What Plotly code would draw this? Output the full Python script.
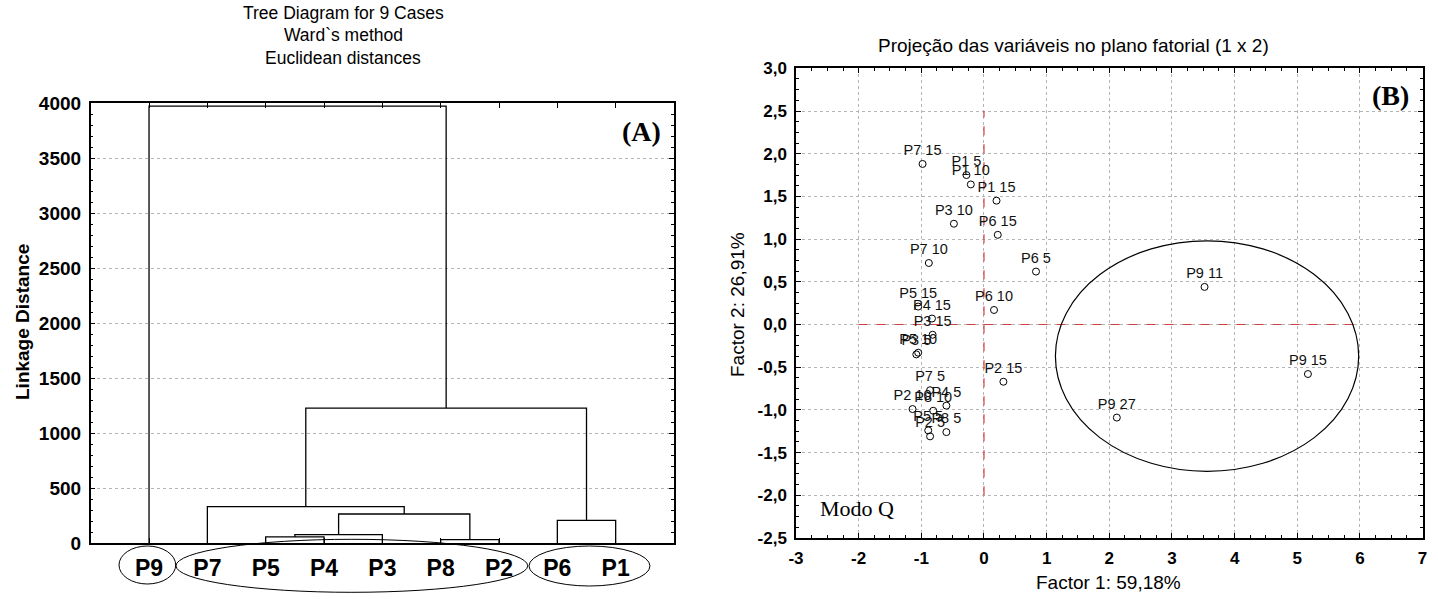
import plotly.graph_objects as go

# ---------------- data ----------------
# Dendrogram (A)
leaves = ["P9", "P7", "P5", "P4", "P3", "P8", "P2", "P6", "P1"]
merge_a = ["P5", "C1", "P8", "C2", "P7", "P6", "C5", "P9"]
merge_b = ["P4", "P3", "P2", "C3", "C4", "P1", "C6", "C7"]
merge_h = [55, 76, 30, 264, 330, 206, 1227, 3975]
y_ticks_a = [0, 500, 1000, 1500, 2000, 2500, 3000, 3500, 4000]

# Factor plane (B)
pt_names = ["P7 15", "P1 5", "P1 10", "P1 15", "P3 10", "P6 15", "P7 10", "P6 5",
            "P5 15", "P4 15", "P3 15", "P6 10", "P5 10", "P3 5", "P2 15", "P7 5",
            "P2 10", "P8 10", "P4 5", "P5 5", "P2 5", "P8 5",
            "P9 11", "P9 15", "P9 27"]
pt_x = [-0.98, -0.28, -0.21, 0.20, -0.48, 0.22, -0.88, 0.83,
        -1.05, -0.83, -0.82, 0.16, -1.05, -1.08, 0.31, -0.86,
        -1.14, -0.81, -0.60, -0.89, -0.86, -0.60,
        3.52, 5.17, 2.12]
pt_y = [1.88, 1.75, 1.64, 1.45, 1.18, 1.05, 0.72, 0.62,
        0.21, 0.07, -0.12, 0.17, -0.33, -0.35, -0.67, -0.77,
        -0.99, -1.01, -0.95, -1.24, -1.31, -1.26,
        0.44, -0.58, -1.09]
x_ticks_b = [-3, -2, -1, 0, 1, 2, 3, 4, 5, 6, 7]
y_ticks_b = [-2.5, -2.0, -1.5, -1.0, -0.5, 0.0, 0.5, 1.0, 1.5, 2.0, 2.5, 3.0]
y_ticktext_b = ["-2,5", "-2,0", "-1,5", "-1,0", "-0,5", "0,0", "0,5", "1,0", "1,5", "2,0", "2,5", "3,0"]
hline_x = [-2, 6]      # red dashed horizontal line at y=0
vline_y = [-2, 2.5]    # red dashed vertical line at x=0
ellipse_x = [1.14, 5.98]
ellipse_y = [-1.72, 0.98]

# ---------------- layout helpers ----------------
W, H = 1438, 599
def fx(p):
    return p / W
def fy(p):
    return 1 - p / H

SANS = "Liberation Sans, Arial, sans-serif"
SERIF = "Liberation Serif, Times New Roman, serif"

# ---------------- dendrogram geometry ----------------
pos = {name: i + 1 for i, name in enumerate(leaves)}
hgt = {name: 0 for name in leaves}
dx, dy = [], []
for k, (a, b, h) in enumerate(zip(merge_a, merge_b, merge_h)):
    xa, xb = pos[a], pos[b]
    dx += [xa, xa, xb, xb, None]
    dy += [hgt[a], h, h, hgt[b], None]
    cid = "C%d" % (k + 1)
    pos[cid] = (xa + xb) / 2
    hgt[cid] = h

fig = go.Figure()
fig.add_trace(go.Scatter(x=dx, y=dy, mode="lines", line=dict(color="black", width=1.3),
                         xaxis="x", yaxis="y", showlegend=False, hoverinfo="skip"))

# ---------------- factor plane ----------------
fig.add_trace(go.Scatter(x=hline_x, y=[0, 0], mode="lines",
                         line=dict(color="#d04040", width=1.2, dash="dash"),
                         xaxis="x2", yaxis="y2", showlegend=False, hoverinfo="skip"))
fig.add_trace(go.Scatter(x=[0, 0], y=vline_y, mode="lines",
                         line=dict(color="#d04040", width=1.2, dash="dash"),
                         xaxis="x2", yaxis="y2", showlegend=False, hoverinfo="skip"))
fig.add_trace(go.Scatter(x=pt_x, y=pt_y, mode="markers+text", text=pt_names,
                         textposition="top center",
                         textfont=dict(family=SANS, size=14.5, color="#111"),
                         marker=dict(symbol="circle-open", size=7, color="black",
                                     line=dict(width=1, color="black")),
                         xaxis="x2", yaxis="y2", showlegend=False, cliponaxis=False))

axis_common = dict(showline=True, linecolor="black", linewidth=1.5, mirror="allticks",
                   ticks="inside", tickcolor="black", zeroline=False, automargin=False)

fig.update_layout(
    width=W, height=H, paper_bgcolor="white", plot_bgcolor="white",
    margin=dict(l=0, r=0, t=0, b=0), showlegend=False,
    xaxis=dict(domain=[fx(90.7), fx(674)], range=[0, 10],
               tickvals=[pos[n] for n in leaves], ticktext=leaves, ticklen=5,
               showgrid=False, ticklabelstandoff=4,
               tickfont=dict(family=SANS, size=23, color="black", weight="bold"),
               anchor="y", **axis_common),
    yaxis=dict(domain=[fy(543), fy(103.3)], range=[0, 4000], tickvals=y_ticks_a,
               ticklen=5, showgrid=True, gridcolor="#b5b5b5", griddash="dot", gridwidth=1,
               minor=dict(dtick=100, ticks="inside", ticklen=3, tickcolor="black", showgrid=False),
               ticklabelstandoff=4,
               tickfont=dict(family=SANS, size=19, color="black", weight="bold"),
               anchor="x", **axis_common),
    xaxis2=dict(domain=[fx(796), fx(1422.6)], range=[-3, 7], tickvals=x_ticks_b,
                ticktext=[str(v) for v in x_ticks_b], ticklen=5,
                showgrid=True, gridcolor="#b5b5b5", griddash="dot", gridwidth=1,
                minor=dict(dtick=0.25, ticks="inside", ticklen=3, tickcolor="black", showgrid=False),
                ticklabelstandoff=4,
                tickfont=dict(family=SANS, size=17, color="black", weight="bold"),
                anchor="y2", **axis_common),
    yaxis2=dict(domain=[fy(538), fy(68.3)], range=[-2.5, 3.0], tickvals=y_ticks_b,
                ticktext=y_ticktext_b, ticklen=5,
                showgrid=True, gridcolor="#b5b5b5", griddash="dot", gridwidth=1,
                minor=dict(dtick=0.125, ticks="inside", ticklen=3, tickcolor="black", showgrid=False),
                ticklabelstandoff=4,
                tickfont=dict(family=SANS, size=17, color="black", weight="bold"),
                anchor="x2", **axis_common),
)

shapes = [
    # ellipses round the leaf labels of the dendrogram
    dict(type="circle", xref="paper", yref="paper", x0=fx(119), x1=fx(175.7), y0=fy(584), y1=fy(546),
         line=dict(color="black", width=1)),
    dict(type="circle", xref="paper", yref="paper", x0=fx(176), x1=fx(527.7), y0=fy(592.3), y1=fy(539.3),
         line=dict(color="black", width=1)),
    dict(type="circle", xref="paper", yref="paper", x0=fx(529), x1=fx(650), y0=fy(586), y1=fy(546),
         line=dict(color="black", width=1)),
    # ellipse round the P9 group in the factor plane
    dict(type="circle", xref="x2", yref="y2", x0=ellipse_x[0], x1=ellipse_x[1],
         y0=ellipse_y[0], y1=ellipse_y[1], line=dict(color="black", width=1.2)),
]
fig.update_layout(shapes=shapes)

def ann(text, x, y, size, family=SANS, bold=False, angle=0):
    return dict(text=text, x=fx(x), y=fy(y), xref="paper", yref="paper",
                xanchor="center", yanchor="middle", showarrow=False, textangle=angle,
                font=dict(family=family, size=size, color="black",
                          weight="bold" if bold else "normal"))

fig.update_layout(annotations=[
    ann("Tree Diagram for 9 Cases", 343, 13, 17.5),
    ann("Ward`s method", 343, 35, 17.5),
    ann("Euclidean distances", 343, 58, 17.5),
    ann("Linkage Distance", 22, 322, 19, bold=True, angle=-90),
    ann("(A)", 641, 131, 28, family=SERIF, bold=True),
    ann("Projeção das variáveis no plano fatorial (1 x 2)", 1073, 45, 19),
    ann("Factor 1: 59,18%", 1108, 582, 19),
    ann("Factor 2: 26,91%", 737, 305, 19, angle=-90),
    ann("(B)", 1390, 95, 28, family=SERIF, bold=True),
    ann("Modo Q", 857, 508, 22, family=SERIF),
])

# remove the page's default body margin so the figure fills the window exactly
fig.write_html("out.html", config={"displayModeBar": False},
               post_script="document.body.style.margin='0';document.body.style.overflow='hidden';")
